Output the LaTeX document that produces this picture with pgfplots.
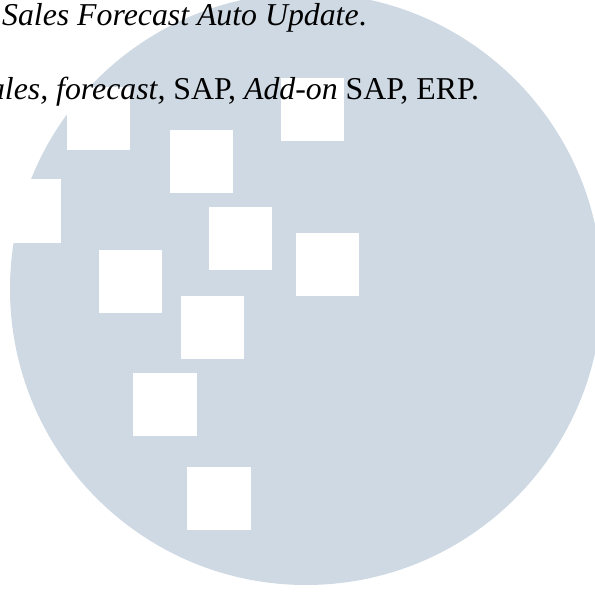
\documentclass[border=0pt]{standalone}
\usepackage{pgfplots}
\pgfplotsset{compat=1.18}
\usepackage{fontspec}
\setmainfont{Liberation Serif}
\definecolor{circ}{RGB}{206,217,227}
\begin{document}
\begin{tikzpicture}
\clip (0,0) rectangle (595bp,594bp);
\begin{axis}[
  at={(0,0)}, anchor=south west,
  width=595bp, height=594bp, scale only axis,
  xmin=0, xmax=595, ymin=0, ymax=594,
  hide axis, clip=false,
]
\fill[circ] (axis cs:306,305) circle[radius=296];
% white squares
\addplot[fill=white, draw=none] coordinates {(67,444) (130,444) (130,507) (67,507)} -- cycle;
\addplot[fill=white, draw=none] coordinates {(170,401) (233,401) (233,464) (170,464)} -- cycle;
\addplot[fill=white, draw=none] coordinates {(281,453) (344,453) (344,516) (281,516)} -- cycle;
\addplot[fill=white, draw=none] coordinates {(-2,351) (61,351) (61,415) (-2,415)} -- cycle;
\addplot[fill=white, draw=none] coordinates {(209,324) (272,324) (272,387) (209,387)} -- cycle;
\addplot[fill=white, draw=none] coordinates {(296,298) (359,298) (359,361) (296,361)} -- cycle;
\addplot[fill=white, draw=none] coordinates {(99,281) (162,281) (162,344) (99,344)} -- cycle;
\addplot[fill=white, draw=none] coordinates {(181,235) (244,235) (244,298) (181,298)} -- cycle;
\addplot[fill=white, draw=none] coordinates {(133,158) (197,158) (197,221) (133,221)} -- cycle;
\addplot[fill=white, draw=none] coordinates {(187,64) (251,64) (251,127) (187,127)} -- cycle;
\node[anchor=base west, inner sep=0pt, font=\fontsize{31.8bp}{38bp}\selectfont] at (axis cs:2,568) {\textit{Sales Forecast Auto Update}.};
\node[anchor=base west, inner sep=0pt, font=\fontsize{31.8bp}{38bp}\selectfont] at (axis cs:-27,494) {\textit{Sales, forecast,} SAP, \textit{Add-on} SAP, ERP.};
\end{axis}
\end{tikzpicture}
\end{document}
